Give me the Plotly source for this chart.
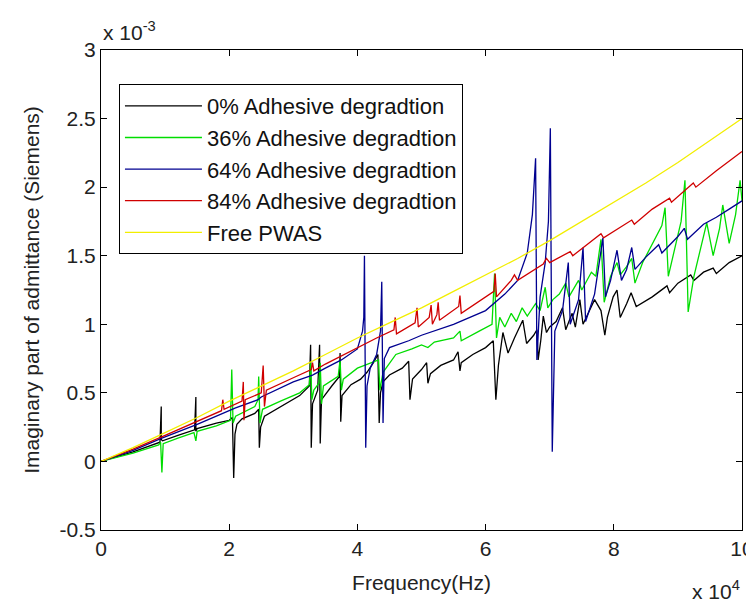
import numpy as np
import plotly.graph_objects as go

# Frequency in units of 1e4 Hz, imaginary admittance in units of 1e-3 S
black_f = [0, 0.5, 0.92, 0.94, 0.94, 0.96, 1.2, 1.46, 1.48, 1.48, 1.5, 1.8, 2.0, 2.05, 2.07, 2.09, 2.12, 2.2, 2.4, 2.46,
           2.47, 2.49, 2.55, 2.8, 3.1, 3.25, 3.27, 3.28, 3.3, 3.38, 3.41, 3.42, 3.44, 3.6, 3.72, 3.73, 3.74, 3.76, 3.9,
           4.05, 4.15, 4.25, 4.32, 4.34, 4.36, 4.4, 4.5, 4.7, 4.8, 4.82, 4.86, 5.0, 5.08, 5.1, 5.14, 5.3, 5.5, 5.57,
           5.6, 5.62, 5.8, 6.0, 6.12, 6.16, 6.2, 6.27, 6.35, 6.45, 6.58, 6.64, 6.75, 6.8, 6.82, 6.86, 6.9, 6.95, 7.0,
           7.1, 7.2, 7.25, 7.35, 7.4, 7.47, 7.52, 7.6, 7.7, 7.8, 7.86, 7.9, 7.99, 8.05, 8.1, 8.2, 8.27, 8.35, 8.6,
           8.83, 8.87, 9.0, 9.2, 9.25, 9.4, 9.55, 9.6, 9.8, 10.0]
black_y = [0, 0.07, 0.14, 0.40, 0.16, 0.15, 0.19, 0.23, 0.47, 0.22, 0.24, 0.28, 0.30, 0.32, -0.12, 0.20, 0.27, 0.31,
           0.35, 0.38, 0.10, 0.25, 0.33, 0.40, 0.48, 0.55, 0.85, 0.10, 0.42, 0.52, 0.85, 0.13, 0.45, 0.55, 0.62, 0.79,
           0.29, 0.48, 0.56, 0.60, 0.65, 0.72, 0.78, 0.28, 0.50, 0.58, 0.63, 0.68, 0.73, 0.45, 0.60, 0.67, 0.72, 0.57,
           0.64, 0.70, 0.74, 0.80, 0.66, 0.72, 0.78, 0.83, 0.88, 0.45, 0.70, 0.94, 0.79, 0.90, 1.03, 0.86, 0.92, 0.96,
           0.74, 0.88, 1.06, 0.94, 0.98, 1.02, 1.12, 0.96, 1.08, 0.98, 1.18, 1.00, 1.08, 1.18, 1.10, 0.92, 1.05, 1.20,
           1.25, 1.05, 1.15, 1.23, 1.13, 1.20, 1.28, 1.23, 1.30, 1.36, 1.32, 1.38, 1.41, 1.37, 1.45, 1.50]

green_f = [0, 0.5, 0.9, 0.93, 0.95, 0.97, 1.2, 1.45, 1.48, 1.5, 1.8, 2.02, 2.04, 2.06, 2.1, 2.4, 2.45, 2.46, 2.48, 2.52,
           2.8, 3.1, 3.25, 3.27, 3.29, 3.32, 3.4, 3.42, 3.44, 3.47, 3.7, 3.73, 3.75, 3.78, 4.0, 4.1, 4.33, 4.35, 4.4,
           4.6, 4.85, 5.0, 5.1, 5.2, 5.5, 5.6, 5.62, 5.9, 6.1, 6.14, 6.17, 6.22, 6.3, 6.4, 6.48, 6.57, 6.65, 6.78,
           6.85, 6.93, 6.97, 7.05, 7.15, 7.25, 7.3, 7.45, 7.5, 7.65, 7.72, 7.8, 7.85, 7.95, 8.05, 8.1, 8.2, 8.28,
           8.33, 8.45, 8.6, 8.75, 8.8, 8.85, 8.95, 9.05, 9.11, 9.16, 9.25, 9.35, 9.45, 9.55, 9.65, 9.7, 9.8, 9.9,
           9.97, 10.0]
green_y = [0, 0.06, 0.12, 0.14, -0.08, 0.13, 0.17, 0.21, 0.15, 0.22, 0.26, 0.30, 0.67, 0.28, 0.33, 0.40, 0.45, 0.62,
           0.28, 0.38, 0.44, 0.50, 0.56, 0.72, 0.45, 0.52, 0.57, 0.72, 0.42, 0.55, 0.62, 0.74, 0.52, 0.60, 0.68, 0.70,
           0.74, 0.52, 0.65, 0.78, 0.82, 0.85, 0.83, 0.87, 0.90, 0.95, 0.88, 0.95, 1.00, 1.37, 0.90, 1.05, 0.98, 1.08,
           1.02, 1.12, 1.06, 1.15, 1.10, 1.27, 1.12, 1.18, 1.22, 1.30, 1.20, 1.32, 1.25, 1.38, 1.35, 1.62, 1.16, 1.35,
           1.45, 1.36, 1.42, 1.48, 1.30, 1.45, 1.58, 1.72, 1.85, 1.35, 1.55, 1.75, 2.05, 1.09, 1.35, 1.55, 1.74, 1.50,
           1.70, 1.87, 1.59, 1.80, 2.05, 1.90]

blue_f = [0, 0.5, 0.95, 1.5, 2.0, 2.1, 2.45, 2.5, 3.0, 3.3, 3.5, 3.75, 4.0, 4.08, 4.1, 4.11, 4.13, 4.15, 4.2, 4.3,
          4.36, 4.38, 4.4, 4.42, 4.5, 4.8, 5.0, 5.5, 6.0, 6.3, 6.5, 6.65, 6.73, 6.78, 6.8, 6.85, 6.93, 6.98, 7.01,
          7.04, 7.08, 7.2, 7.29, 7.32, 7.45, 7.52, 7.56, 7.7, 7.83, 7.87, 7.95, 8.05, 8.12, 8.2, 8.28, 8.33, 8.5,
          8.7, 8.75, 9.0, 9.1, 9.15, 9.4, 9.6, 9.8, 10.0]
blue_y = [0, 0.08, 0.17, 0.27, 0.37, 0.39, 0.45, 0.47, 0.58, 0.63, 0.68, 0.74, 0.82, 0.95, 1.05, 1.50, 0.10, 0.55,
          0.68, 0.78, 0.95, 1.31, 0.28, 0.75, 0.83, 0.88, 0.92, 1.00, 1.10, 1.22, 1.32, 1.52, 1.80, 2.21, 0.74, 1.20,
          1.45, 1.75, 2.43, 0.07, 0.95, 1.10, 1.45, 1.00, 1.18, 1.56, 1.02, 1.22, 1.63, 1.20, 1.32, 1.54, 1.32, 1.40,
          1.56, 1.40, 1.49, 1.58, 1.52, 1.64, 1.70, 1.62, 1.73, 1.78, 1.84, 1.90]

red_f = [0, 0.5, 1.0, 1.5, 1.88, 1.9, 1.92, 2.2, 2.22, 2.23, 2.25, 2.5, 2.53, 2.55, 2.58, 3.0, 3.28, 3.3, 3.32, 3.5,
         3.75, 4.0, 4.3, 4.57, 4.59, 4.61, 4.9, 4.93, 4.95, 5.12, 5.15, 5.17, 5.24, 5.26, 5.28, 5.58, 5.6, 5.62, 6.0,
         6.13, 6.15, 6.17, 6.4, 6.45, 6.5, 6.9, 6.95, 7.0, 7.32, 7.36, 7.8, 7.84, 8.28, 8.32, 8.6, 8.87, 8.9, 9.24,
         9.28, 9.6, 10.0]
red_y = [0, 0.09, 0.19, 0.29, 0.37, 0.45, 0.38, 0.44, 0.58, 0.30, 0.45, 0.50, 0.70, 0.40, 0.52, 0.61, 0.67, 0.72,
         0.66, 0.71, 0.77, 0.83, 0.90, 0.96, 1.05, 0.93, 1.01, 1.12, 0.98, 1.05, 1.14, 1.00, 1.07, 1.16, 1.03, 1.13,
         1.21, 1.08, 1.20, 1.24, 1.37, 1.20, 1.32, 1.36, 1.32, 1.44, 1.48, 1.45, 1.53, 1.50, 1.66, 1.63, 1.76, 1.73,
         1.84, 1.92, 1.89, 2.03, 2.00, 2.12, 2.26]

yellow_f = [0, 0.5, 1.0, 1.5, 2.0, 2.5, 3.0, 3.5, 4.0, 4.5, 5.0, 5.5, 6.0, 6.5, 7.0, 7.5, 8.0, 8.5, 9.0, 9.5, 10.0]
yellow_y = [0, 0.10, 0.21, 0.32, 0.44, 0.55, 0.66, 0.78, 0.90, 1.01, 1.12, 1.24, 1.36, 1.48, 1.61, 1.75, 1.89, 2.03,
            2.18, 2.34, 2.50]

series_names = ["0% Adhesive degradtion", "36% Adhesive degradtion", "64% Adhesive degradtion",
                "84% Adhesive degradtion", "Free PWAS"]
x_tick_labels = ["0", "2", "4", "6", "8", "10"]
y_tick_labels = ["-0.5", "0", "0.5", "1", "1.5", "2", "2.5", "3"]

FONT = "Liberation Sans, Arial, sans-serif"
colors = ["#000000", "#00dd00", "#000090", "#d00000", "#f2ee00"]
data = [(black_f, black_y), (green_f, green_y), (blue_f, blue_y), (red_f, red_y), (yellow_f, yellow_y)]

fig = go.Figure()
for i, ((fx, fy), name, c) in enumerate(zip(data, series_names, colors)):
    fig.add_trace(go.Scatter(
        x=np.array(fx) * 1e4, y=np.array(fy) * 1e-3, mode="lines", name=name, legendgroup=f"g{i}",
        line=dict(color=c, width=1.3)))

x_tick_vals = [float(t) * 1e4 for t in x_tick_labels]
y_tick_vals = [float(t) * 1e-3 for t in y_tick_labels]

axis_common = dict(showline=True, linecolor="black", linewidth=1, mirror="ticks", ticks="inside",
                   ticklen=6, tickcolor="black", showgrid=False, zeroline=False, automargin=False,
                   tickfont=dict(family=FONT, size=21, color="#222"))

# The page body has an 8px margin, so the figure is sized 8px smaller than the window.
fig.update_layout(
    width=746, height=596,
    margin=dict(l=93, r=12, t=42, b=74),
    paper_bgcolor="white", plot_bgcolor="white",
    showlegend=True,
    legend=dict(x=0.028, y=0.929, xanchor="left", yanchor="top", bgcolor="white",
                bordercolor="black", borderwidth=1, font=dict(family=FONT, size=22, color="#111"),
                itemwidth=77, tracegroupgap=0, traceorder="grouped",
                entrywidth=250, entrywidthmode="pixels"),
    xaxis=dict(range=[0, 1e5], tickvals=x_tick_vals, ticktext=x_tick_labels,
               title=dict(text="Frequency(Hz)", font=dict(family=FONT, size=21, color="#222"), standoff=16),
               **axis_common),
    yaxis=dict(range=[-0.5e-3, 3e-3], tickvals=y_tick_vals, ticktext=y_tick_labels,
               title=dict(text="Imaginary part of admittance (Siemens)", font=dict(family=FONT, size=21, color="#222"),
                          standoff=14),
               **axis_common),
    annotations=[
        dict(text="x 10<sup>-3</sup>", xref="paper", yref="paper", x=0.0, y=1.0, xanchor="left", yanchor="bottom",
             showarrow=False, font=dict(family=FONT, size=21, color="#222"), yshift=4),
        dict(text="x 10<sup>4</sup>", xref="paper", yref="paper", x=1.0, y=0.0, xanchor="right", yanchor="top",
             showarrow=False, font=dict(family=FONT, size=21, color="#222"), yshift=-45),
    ],
)

fig.write_html("out.html")
